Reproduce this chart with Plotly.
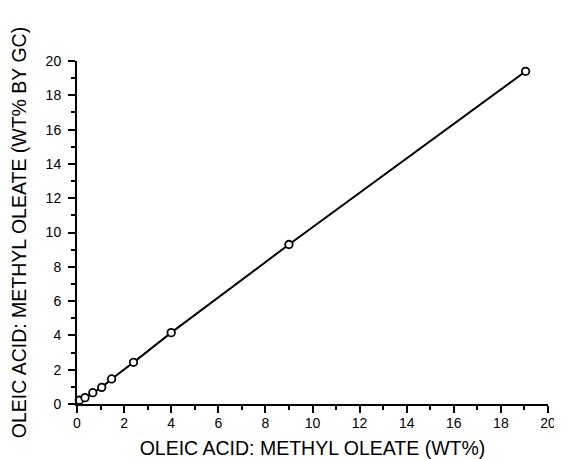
import plotly.graph_objects as go

x_actual = [0.1, 0.34, 0.67, 1.05, 1.47, 2.4, 4.0, 9.0, 19.05]
y_gc = [0.22, 0.37, 0.66, 0.97, 1.46, 2.43, 4.16, 9.3, 19.4]
x_ticks = list(range(0, 21, 2))
y_ticks = list(range(0, 21, 2))

fig = go.Figure()
fig.add_trace(go.Scatter(
    x=[0] + x_actual, y=[0] + y_gc,
    mode="lines", line=dict(color="black", width=2), hoverinfo="skip",
    showlegend=False, cliponaxis=False))
fig.add_trace(go.Scatter(
    x=x_actual, y=y_gc, mode="markers",
    marker=dict(symbol="circle", size=7.5, color="white",
                line=dict(color="black", width=1.8)),
    showlegend=False, cliponaxis=False))

FONT = "Liberation Sans, Arial"
axis_common = dict(
    showgrid=False, zeroline=False, showline=True, linecolor="black",
    linewidth=2, ticks="outside", ticklen=7, tickwidth=2, tickcolor="black",
    minor=dict(ticks="outside", ticklen=4, tickwidth=1.5, tickcolor="black", dtick=1),
    tickfont=dict(family=FONT, size=14, color="black"),
    mirror=False, automargin=False, ticklabeloverflow="allow",
)
fig.update_xaxes(range=[0, 20], tickvals=x_ticks, ticktext=[str(v) for v in x_ticks],
                 title=dict(text="OLEIC ACID: METHYL OLEATE (WT%)",
                            font=dict(family=FONT, size=19.5, color="black"),
                            standoff=13),
                 ticklabelstandoff=-2,
                 **axis_common)
fig.update_yaxes(range=[0, 20], tickvals=y_ticks, ticktext=[str(v) for v in y_ticks],
                 title=dict(text="OLEIC ACID: METHYL OLEATE (WT% BY GC)",
                            font=dict(family=FONT, size=19.5, color="black"),
                            standoff=15),
                 ticklabelstandoff=4,
                 **axis_common)
fig.update_layout(
    width=554, height=451,
    margin=dict(l=69, r=14, t=53, b=55, autoexpand=False),
    plot_bgcolor="white", paper_bgcolor="white",
)
fig.write_html("out.html")
